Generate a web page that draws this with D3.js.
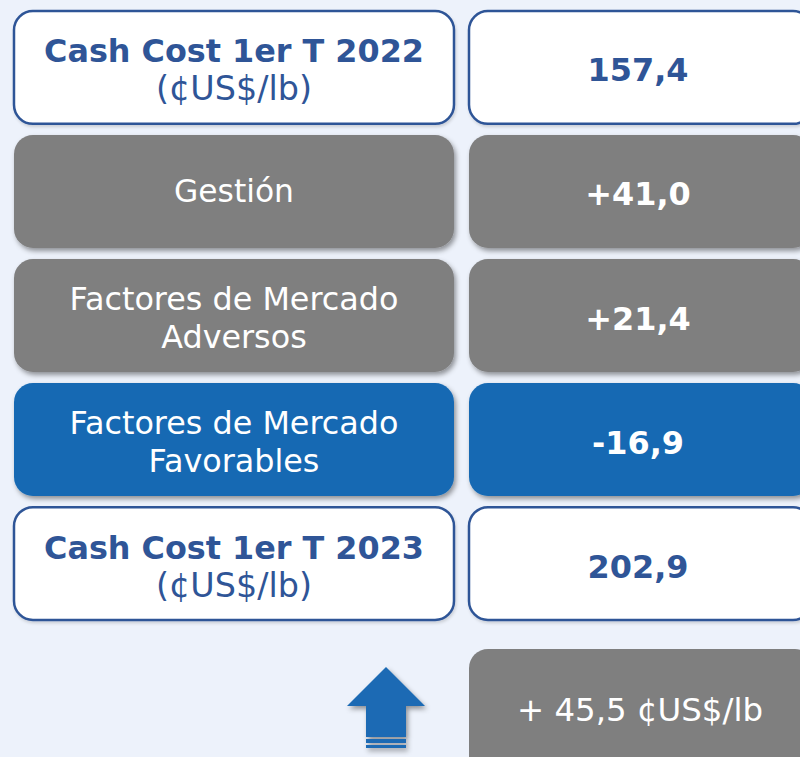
<!DOCTYPE html>
<html><head><meta charset="utf-8">
<script src="https://cdn.jsdelivr.net/npm/d3@7"></script>
<style>html,body{margin:0;padding:0;background:#edf2fb;overflow:hidden}</style>
</head><body>
<svg id="c" width="800" height="757"></svg>
<script>
const rowLabels = [["Cash Cost 1er T 2022","(¢US$/lb)"],["Gestión"],["Factores de Mercado","Adversos"],["Factores de Mercado","Favorables"],["Cash Cost 1er T 2023","(¢US$/lb)"]];
const rowValues = ["157,4","+41,0","+21,4","-16,9","202,9"];
const rowKinds = ["total","gray","gray","blue","total"];
const summaryText = "+ 45,5 ¢US$/lb";

const W=800,H=757;
const svg=d3.select("#c");
svg.append("rect").attr("width",W).attr("height",H).attr("fill","#edf2fb");
const defs=svg.append("defs");
const f=defs.append("filter").attr("id","sh").attr("x","-10%").attr("y","-10%").attr("width","130%").attr("height","140%");
f.append("feDropShadow").attr("dx",2).attr("dy",3).attr("stdDeviation",2.5).attr("flood-color","#000").attr("flood-opacity",0.4);
const f2=defs.append("filter").attr("id","sh2").attr("x","-10%").attr("y","-10%").attr("width","130%").attr("height","140%");
f2.append("feDropShadow").attr("dx",1).attr("dy",2).attr("stdDeviation",1.5).attr("flood-color","#000").attr("flood-opacity",0.15);

const y=d3.scaleBand().domain(d3.range(rowValues.length)).range([11,620]).paddingInner(0.09).paddingOuter(0);
const xCol=d3.scaleOrdinal().domain(["label","value"]).range([[14,454],[469,812]]);
const fill={total:"#ffffff",gray:"#7f7f7f",blue:"#1569b3"};
const FONT="'DejaVu Sans', Verdana, sans-serif";
const BLUE="#2f5597";

function fitText(sel,target){
  const w=sel.node().getComputedTextLength();
  const fs=parseFloat(sel.attr("font-size"));
  sel.attr("font-size",fs*target/w);
  return fs*target/w;
}
const probe=svg.append("text").attr("font-family",FONT).attr("font-weight","bold").attr("font-size",28).text(rowValues[0]);
const valueFS=fitText(probe,101); probe.remove();

const rows=svg.selectAll("g.row").data(rowValues.map((v,i)=>({i,v,lab:rowLabels[i],kind:rowKinds[i]}))).join("g").attr("class","row");
["label","value"].forEach(col=>{
  rows.append("rect")
    .attr("x",d=>xCol(col)[0]).attr("y",d=>y(d.i))
    .attr("width",d=>xCol(col)[1]-xCol(col)[0]).attr("height",y.bandwidth())
    .attr("rx",19).attr("ry",19)
    .attr("fill",d=>fill[d.kind])
    .attr("stroke",d=>d.kind==="total"?BLUE:"none").attr("stroke-width",2.5)
    .attr("filter",d=>d.kind==="total"?"url(#sh2)":"url(#sh)");
});
rows.each(function(d){
  const g=d3.select(this);
  const cx=234, cy=y(d.i)+y.bandwidth()/2;
  if(d.kind==="total"){
    const t1=g.append("text").attr("x",cx).attr("y",cy-5).attr("text-anchor","middle")
      .attr("font-family",FONT).attr("font-weight","bold").attr("font-size",28).attr("fill",BLUE).text(d.lab[0]);
    fitText(t1,380);
    const t2=g.append("text").attr("x",cx).attr("y",cy+33).attr("text-anchor","middle")
      .attr("font-family",FONT).attr("font-size",26).attr("fill",BLUE).text(d.lab[1]);
    fitText(t2,156);
  } else if(d.lab.length===1){
    const t=g.append("text").attr("x",cx).attr("y",cy+11).attr("text-anchor","middle")
      .attr("font-family",FONT).attr("font-size",28).attr("fill","#fff").text(d.lab[0]);
    fitText(t,120);
  } else {
    const t1=g.append("text").attr("x",cx).attr("y",cy-6).attr("text-anchor","middle")
      .attr("font-family",FONT).attr("font-size",28).attr("fill","#fff").text(d.lab[0]);
    const fs=fitText(t1,329);
    g.append("text").attr("x",cx).attr("y",cy+32).attr("text-anchor","middle")
      .attr("font-family",FONT).attr("font-size",fs).attr("fill","#fff").text(d.lab[1]);
  }
  g.append("text").attr("x",638).attr("y",cy+14).attr("text-anchor","middle")
    .attr("font-family",FONT).attr("font-weight","bold").attr("font-size",valueFS)
    .attr("fill",d.kind==="total"?BLUE:"#fff").text(d.v);
});

svg.append("rect").attr("x",469).attr("y",649).attr("width",345).attr("height",130).attr("rx",19)
  .attr("fill","#7f7f7f");
const ts=svg.append("text").attr("x",640).attr("y",721).attr("text-anchor","middle")
  .attr("font-family",FONT).attr("font-size",28).attr("fill","#fff").text(summaryText);
fitText(ts,246);

const ag=svg.append("g").attr("fill","#1a6ab4").attr("filter","url(#sh)");
ag.append("path").attr("d",d3.line()([[386,667],[425,706],[406,706],[406,737],[366,737],[366,706],[347,706]])+"Z");
ag.append("rect").attr("x",366).attr("y",739).attr("width",40).attr("height",4);
ag.append("rect").attr("x",366).attr("y",745).attr("width",40).attr("height",3);
</script>
</body></html>
